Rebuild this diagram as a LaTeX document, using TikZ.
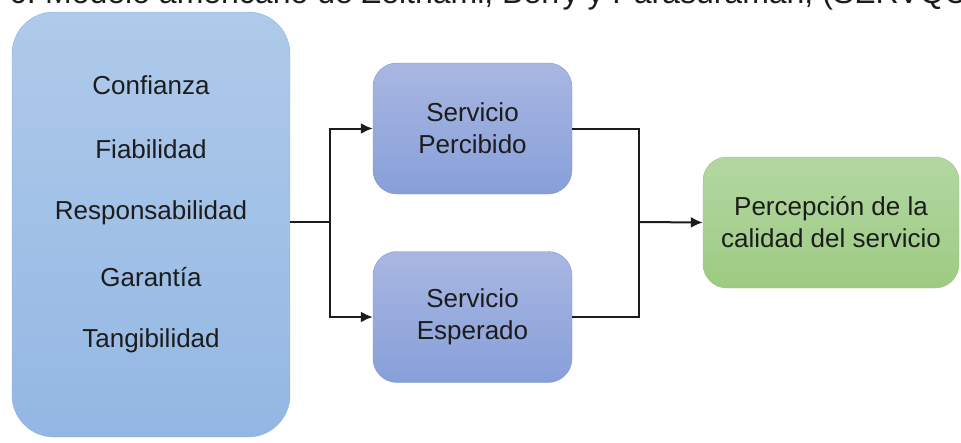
\documentclass[tikz,border=0pt]{standalone}
\usepackage{fontspec}
\setmainfont{Liberation Sans}
\usetikzlibrary{positioning, arrows.meta}
\definecolor{dimtop}{HTML}{AFCAEA}
\definecolor{dimbot}{HTML}{93B7E3}
\definecolor{dimline}{HTML}{8EAEDC}
\definecolor{servtop}{HTML}{A9B7E2}
\definecolor{servbot}{HTML}{879FD9}
\definecolor{servline}{HTML}{7E96D0}
\definecolor{qualtop}{HTML}{B3D7A2}
\definecolor{qualbot}{HTML}{9DCB82}
\definecolor{qualline}{HTML}{93C37B}
\definecolor{ink}{HTML}{1C1C1C}
\tikzset{
  dimbox/.style={draw=dimline, top color=dimtop, bottom color=dimbot, rounded corners=42pt,
    minimum width=278pt, minimum height=425pt},
  servbox/.style={draw=servline, top color=servtop, bottom color=servbot, rounded corners=24pt,
    minimum width=199pt, minimum height=131pt, align=center, text=ink,
    font=\fontsize{26}{32}\selectfont},
  qualbox/.style={draw=qualline, top color=qualtop, bottom color=qualbot, rounded corners=24pt,
    minimum width=256pt, minimum height=131pt, align=center, text=ink,
    font=\fontsize{26}{32}\selectfont},
  dimtext/.style={text=ink, font=\fontsize{26}{32}\selectfont},
  conn/.style={line width=2pt, ink},
  tip/.style={-{Latex[length=12pt, width=11pt]}}
}
\begin{document}
\begin{tikzpicture}[x=1pt, y=-1pt]
  \useasboundingbox (0, 0) rectangle (961, 442);
  % caption cut by the top edge
  \node[anchor=base west, inner sep=0pt, text=ink, font=\fontsize{32}{38}\selectfont] (title) at (45, 3)
    {Modelo americano de Zeithaml, Berry y Parasuraman, (SERVQUAL)};
  \node[anchor=base east, inner sep=0pt, text=ink, font=\fontsize{32}{38}\selectfont] (fignum)
    at ([xshift=-9pt]title.base west) {Figura 6:};
  % dimensions
  \node[dimbox] (dims) at (151, 224.5) {};
  \foreach \dimname [count=\i] in {Confianza, Fiabilidad, Responsabilidad, Garantía, Tangibilidad}
    \node[dimtext] (d\i) at (151, 21 + 64*\i) {\dimname};
  % services
  \node[servbox] (perc) at (472.5, 128.5) {Servicio\\Percibido};
  \node[servbox] (esp) at (472.5, 317) {Servicio\\Esperado};
  \node[qualbox] (qual) at (831, 222.5) {Percepción de la\\calidad del servicio};
  % connectors
  \coordinate (fork) at (330, 222);
  \coordinate (merge) at (639, 222);
  \draw[conn] (dims.east |- fork) -- (fork);
  \draw[conn, tip] (fork) |- (perc.west);
  \draw[conn, tip] (fork) |- (esp.west);
  \draw[conn] (perc.east) -| (merge);
  \draw[conn] (esp.east) -| (merge);
  \draw[conn, tip] (merge) -- (qual.west);
\end{tikzpicture}
\end{document}
